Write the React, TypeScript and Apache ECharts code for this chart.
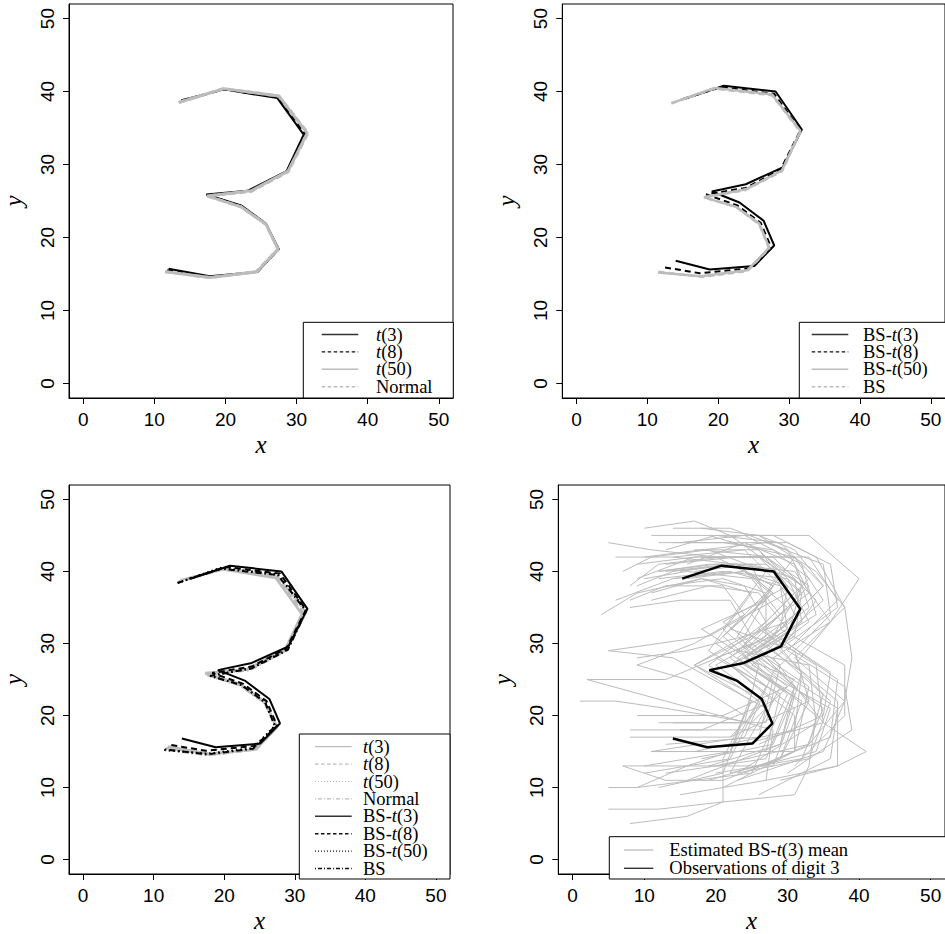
import React, { useEffect, useRef } from "react";
import * as echarts from "echarts";

const TICKS = [0, 10, 20, 30, 40, 50];

// Panel 1 / 3 : fitted means under t and Normal models
const t3 = [[12.0,15.7],[17.8,14.7],[24.5,15.3],[27.5,18.4],[25.7,21.9],[22.2,24.4],[17.3,25.9],[23.1,26.4],[28.6,29.1],[31.0,34.1],[27.3,39.1],[19.8,40.3],[13.8,38.8]];
const t8 = [[11.8,15.5],[17.8,14.6],[24.5,15.3],[27.5,18.4],[25.7,21.8],[22.2,24.3],[17.4,25.8],[23.3,26.4],[28.7,29.1],[31.2,34.2],[27.4,39.2],[19.8,40.3],[13.6,38.6]];
const t50 = [[11.6,15.3],[17.8,14.5],[24.4,15.3],[27.4,18.4],[25.7,21.8],[22.2,24.2],[17.4,25.7],[23.6,26.4],[28.8,29.1],[31.5,34.3],[27.5,39.4],[19.8,40.4],[13.4,38.5]];
const normal = [[11.5,15.3],[17.8,14.5],[24.3,15.3],[27.4,18.4],[25.7,21.8],[22.2,24.2],[17.4,25.7],[23.6,26.3],[28.8,29.0],[31.6,34.3],[27.5,39.4],[19.7,40.4],[13.4,38.5]];

// Panel 2 / 3 / 4 : fitted means under BS models
const bst3 = [[14.0,16.8],[18.8,15.6],[25.1,16.1],[27.9,18.9],[26.4,22.3],[23.0,24.8],[19.1,26.3],[23.9,27.3],[29.1,29.6],[31.8,34.8],[28.1,40.0],[20.8,40.8],[15.3,39.0]];
const bst8 = [[12.5,15.9],[17.4,15.1],[24.6,15.8],[27.5,18.6],[26.0,22.0],[22.7,24.4],[18.3,25.9],[23.9,26.8],[28.8,29.3],[31.6,34.7],[27.9,39.7],[20.4,40.6],[15.0,39.0]];
const bst50 = [[11.5,15.2],[17.6,14.7],[24.1,15.5],[27.2,18.6],[25.8,21.9],[22.5,24.2],[18.0,25.5],[23.9,26.6],[29.0,29.2],[31.6,34.6],[27.6,39.6],[19.5,40.5],[13.4,38.4]];
const bs = [[11.6,15.3],[17.6,14.6],[24.1,15.4],[27.2,18.5],[25.8,21.8],[22.5,24.2],[18.0,25.5],[23.8,26.5],[29.0,29.1],[31.6,34.5],[27.6,39.5],[19.5,40.4],[13.4,38.4]];

// Panel 4 : observations of digit 3
const obs = [
  [[10,46],[17,47],[22,45],[29,40],[23,31],[31,24],[27,14],[13,12]],
  [[5,44],[11,43],[20,42],[28,38],[20,30],[30,23],[25,12],[9,10]],
  [[25,45],[33,45],[40,39],[36,33],[28,28],[35,19],[41,15],[37,13],[29,11]],
  [[7,40],[11,42],[19,43],[27,40],[21,32],[28,26],[24,17],[11,15]],
  [[4,34],[9,37],[18,39],[25,37],[19,29],[27,24],[22,15],[16,13],[9,10],[5,10]],
  [[8,38],[12,41],[21,42],[31,42],[25,34],[32,26],[29,16],[16,11]],
  [[14,42],[24,43],[30,37],[19,31],[5,29],[14,28],[27,21],[22,12]],
  [[9,39],[17,42],[26,42],[31,37],[24,30],[33,24],[31,15],[21,10]],
  [[13,43],[20,45],[29,44],[35,38],[27,30],[36,22],[33,14],[23,12]],
  [[16,41],[24,44],[31,41],[33,35],[24,28],[34,20],[33,13],[31,9],[21,8],[16,6],[8,5]],
  [[15,40],[22,41],[28,38],[24,31],[17,27],[25,22],[21,14],[21,8],[12,7],[5,7]],
  [[12,39],[21,40],[30,39],[33,33],[25,27],[36,21],[34,15],[22,12]],
  [[6,36],[14,39],[24,40],[30,35],[22,28],[31,21],[28,13],[7,13]],
  [[17,43],[26,43],[32,37],[25,30],[13,25],[2,25],[13,22],[28,18],[27,11],[15,9]],
  [[18,46],[26,45],[34,40],[38,35],[31,28],[38,22],[35,15],[23,11]],
  [[12,44],[22,44],[31,42],[35,36],[26,28],[37,21],[36,14],[26,9]],
  [[19,42],[27,42],[32,38],[28,31],[20,28],[29,23],[27,15],[11,15]],
  [[11,36],[19,38],[26,37],[30,32],[24,28],[31,25],[25,19],[13,21],[6,22],[1,22]],
  [[13,41],[23,42],[33,42],[37,36],[30,29],[38,24],[39,18],[30,12]],
  [[10,39],[16,40],[25,39],[29,34],[23,29],[33,27],[34,19],[23,12]],
  [[20,45],[28,45],[34,42],[38,35],[39,28],[38,22],[33,16],[24,12]],
  [[9,41],[17,42],[27,42],[33,38],[27,32],[36,26],[35,20],[26,16]],
  [[14,46],[22,46],[30,43],[33,37],[25,31],[32,26],[31,18],[17,15]],
  [[10,42],[18,43],[28,42],[34,36],[29,29],[35,23],[33,16],[20,13]],
  [[12,40],[20,41],[28,40],[31,34],[24,29],[30,24],[21,20],[9,20]],
  [[14,39],[22,40],[29,38],[30,32],[22,27],[28,22],[18,18],[8,18]],
  [[13,38],[21,39],[27,37],[27,31],[20,27],[27,22],[22,17],[8,17]],
  [[15,44],[24,45],[32,41],[34,34],[26,29],[33,22],[29,14],[21,11],[13,11],[7,13]],
  [[18,42],[26,42],[32,38],[30,31],[22,27],[31,20],[31,15],[11,15]],
  [[17,40],[25,41],[31,39],[32,33],[26,29],[31,24],[29,16],[19,13]],
  [[6,42],[14,42],[23,41],[28,37],[21,31],[28,25],[26,17],[13,16]],
  [[11,45],[19,45],[26,43],[30,38],[21,33],[29,27],[27,19],[14,19]],
  [[22,44],[30,44],[36,41],[37,35],[30,30],[37,25],[36,17],[26,13]],
  [[12,40],[19,41],[25,41],[27,36],[18,32],[26,27],[24,19],[12,19]],
  [[16,39],[24,40],[30,38],[29,32],[23,28],[29,24],[26,18],[15,18]],
  [[8,35],[15,36],[22,36],[25,31],[17,27],[25,23],[22,15],[10,13]],
  [[18,43],[27,44],[35,41],[36,34],[28,26],[35,21],[32,14],[20,12]],
  [[13,40],[22,41],[31,40],[36,33],[31,27],[37,22],[37,13],[27,11]],
  [[20,41],[27,41],[32,37],[31,31],[24,27],[31,23],[28,16],[18,14]],
  [[11,37],[18,39],[24,38],[27,33],[19,27],[26,22],[22,14],[10,12]],
  [[14,44],[21,44],[28,43],[33,39],[26,32],[34,27],[35,19],[24,16]],
  [[9,38],[14,40],[23,41],[28,37],[22,32],[31,29],[33,22],[22,17]],
  [[19,45],[26,45],[31,43],[35,38],[29,32],[38,27],[38,20],[31,13]],
  [[9,28],[16,29],[24,31],[30,33],[24,27],[32,22],[29,14],[19,11]],
  [[8,36],[13,38],[21,38],[24,34],[17,30],[9,27],[16,25],[24,20],[21,12],[12,10]],
];

const legend1 = ["t(3)", "t(8)", "t(50)", "Normal"];
const legend2 = ["BS-t(3)", "BS-t(8)", "BS-t(50)", "BS"];
const legend4 = ["Estimated BS-t(3) mean", "Observations of digit 3"];

const GRAY = "#bcbcbc";
const DASH = [6, 4];
const DOT = [1.5, 3];
const DOTDASH = [1.5, 3, 6, 3];
const SERIF = "'Liberation Serif', 'DejaVu Serif', serif";
const SANS = "'Liberation Sans', Arial, sans-serif";

function fmtLabel(s: string) {
  return s.replace(/t\(/, "{i|t}(");
}

export default function App() {
  const ref = useRef<HTMLDivElement>(null);
  useEffect(() => {
    const chart = echarts.init(ref.current!, null, { renderer: "svg" });
    const gridBoxes = [
      { left: 66.7, top: 4, width: 386.3, height: 394 },
      { left: 562.3, top: 4, width: 387.7, height: 394 },
      { left: 62.7, top: 485, width: 387.3, height: 394 },
      { left: 558.3, top: 485, width: 388, height: 394 },
    ];
    const grid = gridBoxes.map((g) => ({
      ...g,
      show: true,
      borderColor: "#000",
      borderWidth: 1,
      backgroundColor: "#fff",
    }));
    const axis = (i: number, isX: boolean) => ({
      type: "value",
      gridIndex: i,
      min: -2,
      max: 52,
      splitLine: { show: false },
      axisLine: { show: true, onZero: false, lineStyle: { color: "#000", width: 1 } },
      axisTick: {
        show: true,
        inside: false,
        length: 6,
        customValues: TICKS,
        lineStyle: { color: "#000", width: 1 },
      },
      axisLabel: {
        customValues: TICKS,
        fontFamily: SANS,
        fontSize: 19,
        color: "#000",
        margin: 12,
        rotate: isX ? 0 : 90,
      },
      name: isX ? "x" : "y",
      nameLocation: "middle",
      nameGap: isX ? 34 : 43,
      nameTextStyle: {
        fontFamily: SERIF,
        fontStyle: "italic",
        fontSize: 25,
        color: "#000",
      },
    });
    const xAxis = [0, 1, 2, 3].map((i) => axis(i, true));
    const yAxis = [0, 1, 2, 3].map((i) => axis(i, false));

    const mk = (data: number[][], g: number, color: string, width: number, type: any, z = 2) => ({
      type: "line",
      xAxisIndex: g,
      yAxisIndex: g,
      data,
      symbol: "none",
      showSymbol: false,
      silent: true,
      z,
      lineStyle: { color, width, type },
    });

    const series: any[] = [
      // panel 1
      mk(t3, 0, "#000", 2, "solid"),
      mk(t8, 0, "#000", 2, DASH),
      mk(t50, 0, GRAY, 3, "solid"),
      mk(normal, 0, GRAY, 3, DASH),
      // panel 2
      mk(bst3, 1, "#000", 2, "solid"),
      mk(bst8, 1, "#000", 2, DASH),
      mk(bst50, 1, GRAY, 2.5, "solid"),
      mk(bs, 1, GRAY, 2.5, DASH),
      // panel 3
      mk(t3, 2, GRAY, 2.5, "solid"),
      mk(t8, 2, GRAY, 2.5, DASH),
      mk(t50, 2, GRAY, 2.5, DOT),
      mk(normal, 2, GRAY, 2.5, DOTDASH),
      mk(bst3, 2, "#000", 2, "solid", 3),
      mk(bst8, 2, "#000", 2, DASH, 3),
      mk(bst50, 2, "#000", 2, DOT, 3),
      mk(bs, 2, "#000", 2, DOTDASH, 3),
      // panel 4
      ...obs.map((o) => mk(o, 3, GRAY, 1, "solid")),
      mk(bst3, 3, "#000", 2.5, "solid", 3),
    ];

    const graphic: any[] = [];
    const addLegend = (
      box: { x: number; y: number; w: number; h: number },
      lineX1: number,
      lineX2: number,
      textX: number,
      y0: number,
      dy: number,
      items: { label: string; color: string; dash: any; width: number }[],
      fontSize: number
    ) => {
      graphic.push({
        type: "rect",
        z: 100,
        shape: { x: box.x, y: box.y, width: box.w, height: box.h },
        style: { fill: "#fff", stroke: "#000", lineWidth: 1 },
      });
      items.forEach((it, k) => {
        const y = y0 + k * dy;
        graphic.push({
          type: "line",
          z: 101,
          shape: { x1: lineX1, y1: y, x2: lineX2, y2: y },
          style: { stroke: it.color, lineWidth: it.width, lineDash: it.dash },
        });
        graphic.push({
          type: "text",
          z: 101,
          x: textX,
          y: y,
          style: {
            text: fmtLabel(it.label),
            fontFamily: SERIF,
            fontSize,
            lineHeight: 15,
            fill: "#000",
            align: "left",
            verticalAlign: "middle",
            textAlign: "left",
            textVerticalAlign: "middle",
            rich: {
              i: { fontFamily: SERIF, fontSize, lineHeight: 15, fontStyle: "italic", fill: "#000" },
            },
          },
        });
      });
    };

    const L_DASH = [3.5, 2.5];
    const L_DOT = [1, 2];
    const L_DOTDASH = [1, 2, 4, 2];
    addLegend(
      { x: 303.3, y: 322.3, w: 150, h: 75.7 },
      321.7, 358.3, 376, 334.5, 17.4,
      [
        { label: legend1[0], color: "#333", dash: null, width: 1.4 },
        { label: legend1[1], color: "#111", dash: L_DASH, width: 1.4 },
        { label: legend1[2], color: GRAY, dash: null, width: 1.4 },
        { label: legend1[3], color: GRAY, dash: L_DASH, width: 1.4 },
      ],
      18.5
    );
    addLegend(
      { x: 799.3, y: 322.3, w: 200, h: 75.7 },
      811.7, 848.3, 863, 334.5, 17.4,
      [
        { label: legend2[0], color: "#333", dash: null, width: 1.4 },
        { label: legend2[1], color: "#111", dash: L_DASH, width: 1.4 },
        { label: legend2[2], color: GRAY, dash: null, width: 1.4 },
        { label: legend2[3], color: GRAY, dash: L_DASH, width: 1.4 },
      ],
      18.5
    );
    addLegend(
      { x: 299.3, y: 734, w: 150.7, h: 145 },
      315, 351.7, 363, 746.7, 17.4,
      [
        { label: legend1[0], color: GRAY, dash: null, width: 1.2 },
        { label: legend1[1], color: GRAY, dash: L_DASH, width: 1.2 },
        { label: legend1[2], color: GRAY, dash: L_DOT, width: 1.2 },
        { label: legend1[3], color: GRAY, dash: L_DOTDASH, width: 1.2 },
        { label: legend2[0], color: "#333", dash: null, width: 1.4 },
        { label: legend2[1], color: "#111", dash: L_DASH, width: 1.4 },
        { label: legend2[2], color: "#111", dash: L_DOT, width: 1.2 },
        { label: legend2[3], color: "#111", dash: L_DOTDASH, width: 1.4 },
      ],
      18.5
    );
    addLegend(
      { x: 609.3, y: 836.7, w: 400, h: 42.3 },
      624, 653.3, 669.3, 850, 18.3,
      [
        { label: legend4[0], color: GRAY, dash: null, width: 1.3 },
        { label: legend4[1], color: "#333", dash: null, width: 1.4 },
      ],
      18.5
    );

    chart.setOption({
      animation: false,
      backgroundColor: "#fff",
      grid,
      xAxis,
      yAxis,
      series,
      graphic,
    });
    return () => chart.dispose();
  }, []);
  return (
    <div
      ref={ref}
      style={{ position: "absolute", left: 0, top: 0, width: 945, height: 934 }}
    />
  );
}
